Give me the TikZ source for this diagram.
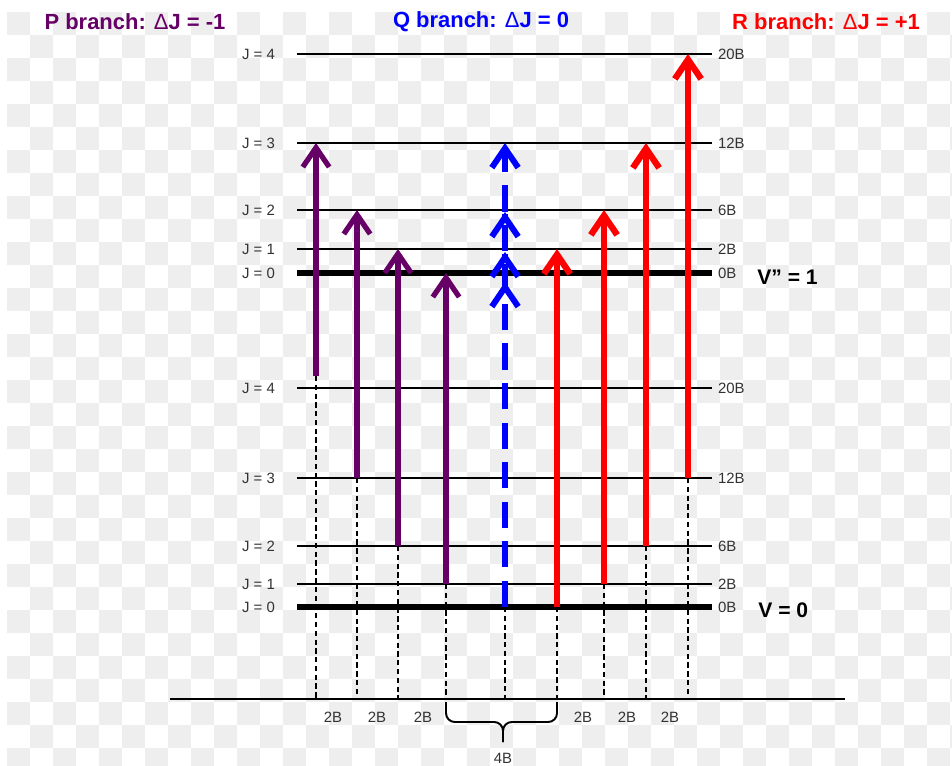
\documentclass[tikz,border=0pt]{standalone}
\usepackage{fontspec}
\setmainfont{Liberation Sans}
\usetikzlibrary{arrows.meta}

\definecolor{pbranch}{RGB}{102,0,102}
\definecolor{qbranch}{RGB}{0,0,255}
\definecolor{rbranch}{RGB}{255,0,0}
\definecolor{levtext}{RGB}{50,50,50}
\definecolor{checker}{RGB}{238,238,238}

\newcommand{\dJ}{{\mdseries Δ}J}

\begin{document}
\begin{tikzpicture}[
        x=0.02cm, y=-0.02cm,
        level/.style={line width=1.1pt},
        ground/.style={line width=3.4pt},
        levlabel/.style={font=\fontsize{8.5}{10}\selectfont, text=levtext, inner sep=1pt},
        title/.style={font=\fontsize{12.5}{14}\selectfont\bfseries},
        vlabel/.style={font=\fontsize{12}{14}\selectfont\bfseries, anchor=west, inner sep=0pt},
        barb/.style={-{Straight Barb[length=11pt, width=15pt]}},
        parrow/.style={barb, draw=pbranch, line width=3pt},
        qarrow/.style={barb, draw=qbranch, line width=3.4pt, dash pattern=on 15pt off 7.5pt},
        rarrow/.style={barb, draw=rbranch, line width=3.6pt},
        drop/.style={line width=1pt, dash pattern=on 3pt off 2pt}
    ]
        \useasboundingbox (0,0) rectangle (952,766);
        % checkerboard background
        \foreach \i in {0,...,41}
            \foreach \j in {0,...,32}{
                \pgfmathtruncatemacro\odd{mod(\i+\j,2)}
                \ifnum\odd=0 \fill[checker] ({7+23*\i},{12+23*\j}) rectangle ++(23,23); \fi
            }

        \node[title, text=pbranch] (ptitle) at (135,22) {P branch: \dJ{} = -1};
        \node[title, text=qbranch] (qtitle) at (481,22) {Q branch: \dJ{} = 0};
        \node[title, text=rbranch] (rtitle) at (826,22) {R branch: \dJ{} = +1};

        % rotational levels of both vibrational states
        \foreach \y/\J/\E in {54/4/20B, 143/3/12B, 210/2/6B, 249/1/2B, 388/4/20B, 478/3/12B, 546/2/6B, 584/1/2B} {
            \draw[level] (297,\y) -- (712,\y);
            \node[levlabel, anchor=east] (jl\y) at (277,\y) {J = \J};
            \node[levlabel, anchor=west] (el\y) at (716,\y) {\E};
        }
        \foreach \y in {273, 607} {
            \draw[ground] (297,\y) -- (712,\y);
            \node[levlabel, anchor=east] (jl\y) at (277,\y) {J = 0};
            \node[levlabel, anchor=west] (el\y) at (716,\y) {0B};
        }
        \node[vlabel] (vup) at (757,277) {V” = 1};
        \node[vlabel] (vlow) at (758,610) {V = 0};

        % projections onto the spectrum axis
        \draw[level] (170,699) -- (845,699);
        \foreach \x/\y in {316/376, 357/478, 398/546, 446/584, 505/607, 557/607, 604/584, 646/546, 688/478}
            \draw[drop] (\x,\y) -- (\x,699);

        \foreach \x/\ya/\yb in {316/376/143, 357/478/210, 398/546/249, 446/584/273}
            \draw[parrow] (\x,\ya) -- (\x,\yb);
        \foreach \x/\ya/\yb in {557/607/249, 604/584/210, 646/546/143, 688/478/54}
            \draw[rarrow] (\x,\ya) -- (\x,\yb);
        \draw[qarrow] (505,607) -- (505,143);
        \foreach \y in {212, 252, 282}
            \draw[qarrow, solid] (505,{\y+2}) -- (505,\y);

        \foreach \x in {333, 377, 423, 583, 627, 670}
            \node[levlabel] (gap\x) at (\x,717) {2B};
        \draw[level, rounded corners=5pt] (446,702) |- (503,722) -- (503,742);
        \draw[level, rounded corners=5pt] (557,702) |- (503,722) -- (503,742);
        \node[levlabel] (qgap) at (503,758) {4B};
    \end{tikzpicture}
\end{document}
